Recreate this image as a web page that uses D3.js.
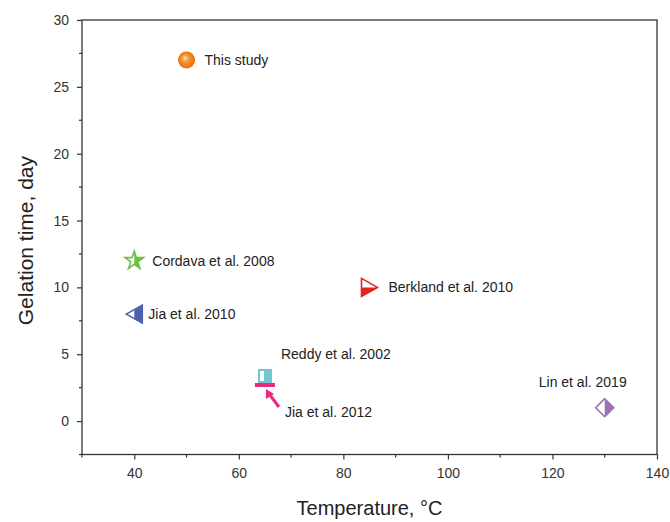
<!DOCTYPE html>
<html>
<head>
<meta charset="utf-8">
<script src="https://cdn.jsdelivr.net/npm/d3@7"></script>
<style>
  body { margin: 0; background: #fff; }
  svg { display: block; font-family: "Liberation Sans", Arial, sans-serif; }
</style>
</head>
<body>
<svg id="chart" width="670" height="522"></svg>
<script>
// Literature comparison: gelation time vs. temperature
const studies = ["This study", "Cordava et al. 2008", "Jia et al. 2010", "Berkland et al. 2010",
                 "Reddy et al. 2002", "Jia et al. 2012", "Lin et al. 2019"];
const temperatures = [50, 40, 40, 85, 65, 65, 130];
const gelationDays = [27, 12, 8, 10, 3.3, 2.7, 1];
const xTicks = [40, 60, 80, 100, 120, 140];
const yTicks = [0, 5, 10, 15, 20, 25, 30];

const symbolKind = ["sphere", "star", "triLeft", "triRight", "square", "bar", "diamond"];
const symbolColor = ["#f07c12", "#6dbf45", "#4a62b0", "#e3231e", "#6ec6d3", "#e8297c", "#9d6fb6"];

const svg = d3.select("#chart");
const x = d3.scaleLinear().domain([30, 140]).range([82, 657]);
const y = d3.scaleLinear().domain([-2.5, 30]).range([454.5, 20]);
const axisColor = "#333";

const defs = svg.append("defs");
const grad = defs.append("radialGradient").attr("id", "sphereGrad")
  .attr("cx", "50%").attr("cy", "50%").attr("r", "55%").attr("fx", "40%").attr("fy", "35%");
grad.append("stop").attr("offset", "0%").attr("stop-color", "#ffe2c2");
grad.append("stop").attr("offset", "35%").attr("stop-color", "#f59a3c");
grad.append("stop").attr("offset", "80%").attr("stop-color", "#ee7410");
grad.append("stop").attr("offset", "100%").attr("stop-color", "#d86306");

// frame
svg.append("rect").attr("x", x(30)).attr("y", y(30))
  .attr("width", x(140) - x(30)).attr("height", y(-2.5) - y(30))
  .attr("fill", "none").attr("stroke", axisColor).attr("stroke-width", 1.3);

// axes
const xAxis = d3.axisBottom(x).tickValues(xTicks).tickSize(5).tickPadding(9).tickFormat(d3.format("d"));
const gx = svg.append("g").attr("transform", `translate(0,${y(-2.5)})`).call(xAxis);
const yAxis = d3.axisLeft(y).tickValues(yTicks).tickSize(5).tickPadding(8).tickFormat(d3.format("d"));
const gy = svg.append("g").attr("transform", `translate(${x(30)},0)`).call(yAxis);
[gx, gy].forEach(g => {
  g.select(".domain").remove();
  g.selectAll("line").attr("stroke", axisColor).attr("stroke-width", 1.2);
  g.selectAll("text").attr("fill", axisColor).style("font-size", "14px");
});

// minor ticks
const xMinor = d3.range(30, 141, 10).filter(v => !xTicks.includes(v));
svg.append("g").selectAll("line").data(xMinor).join("line")
  .attr("x1", d => x(d)).attr("x2", d => x(d))
  .attr("y1", y(-2.5)).attr("y2", y(-2.5) + 3)
  .attr("stroke", axisColor).attr("stroke-width", 1.2);
const yMinor = d3.range(-2.5, 30, 5);
svg.append("g").selectAll("line").data(yMinor).join("line")
  .attr("y1", d => y(d)).attr("y2", d => y(d))
  .attr("x1", x(30)).attr("x2", x(30) - 3)
  .attr("stroke", axisColor).attr("stroke-width", 1.2);

// axis titles
svg.append("text").attr("x", (x(30) + x(140)) / 2).attr("y", 515)
  .attr("text-anchor", "middle").attr("fill", "#222").style("font-size", "20px")
  .text("Temperature, °C");
svg.append("text").attr("transform", `translate(33,${y(13.5)}) rotate(-90)`)
  .attr("text-anchor", "middle").attr("fill", "#222").style("font-size", "21px")
  .text("Gelation time, day");

// half-filled symbol helper: white in the clipped half, colour elsewhere
let clipId = 0;
function halfFilled(g, pathD, color, half) {
  const id = "clip" + (clipId++);
  const c = defs.append("clipPath").attr("id", id);
  const r = 20;
  if (half === "left") c.append("rect").attr("x", -r).attr("y", -r).attr("width", r).attr("height", 2 * r);
  if (half === "top") c.append("rect").attr("x", -r).attr("y", -r).attr("width", 2 * r).attr("height", r);
  g.append("path").attr("d", pathD).attr("fill", color);
  g.append("path").attr("d", pathD).attr("fill", "#fff").attr("clip-path", `url(#${id})`);
  g.append("path").attr("d", pathD).attr("fill", "none").attr("stroke", color)
    .attr("stroke-width", 1.6).attr("stroke-linejoin", "miter");
}

const points = studies.map((s, i) => ({ name: s, t: temperatures[i], d: gelationDays[i], kind: symbolKind[i], color: symbolColor[i] }));

const marks = svg.append("g");
points.forEach(p => {
  const g = marks.append("g").attr("transform", `translate(${x(p.t)},${y(p.d)})`);
  if (p.kind === "sphere") {
    g.append("circle").attr("r", 8.5).attr("fill", "url(#sphereGrad)");
  } else if (p.kind === "star") {
    const star = d3.symbol().type(d3.symbolStar).size(105)();
    halfFilled(g, star, p.color, "left");
  } else if (p.kind === "triLeft") {
    halfFilled(g, "M-8,0L8,-9L8,9Z", p.color, "left");
  } else if (p.kind === "triRight") {
    halfFilled(g, "M-8,-9L8,0L-8,9Z", p.color, "top");
  } else if (p.kind === "square") {
    g.append("rect").attr("x", -7).attr("y", -8).attr("width", 14).attr("height", 14).attr("fill", p.color);
    g.append("rect").attr("x", -5).attr("y", -6).attr("width", 4).attr("height", 10).attr("fill", "#fff");
  } else if (p.kind === "bar") {
    g.append("rect").attr("x", -10).attr("y", -2).attr("width", 20).attr("height", 4).attr("fill", p.color);
  } else if (p.kind === "diamond") {
    halfFilled(g, "M0,-9L9,0L0,9L-9,0Z", p.color, "left");
  }
});

// labels (offset from each point)
const labelOffsets = {
  "This study": [18, 5, "start"],
  "Cordava et al. 2008": [18, 5, "start"],
  "Jia et al. 2010": [14, 5, "start"],
  "Berkland et al. 2010": [19, 5, "start"],
  "Reddy et al. 2002": [16, -18, "start"],
  "Jia et al. 2012": [20, 32, "start"],
  "Lin et al. 2019": [-22, -21, "middle"]
};
svg.append("g").selectAll("text").data(points).join("text")
  .attr("x", p => x(p.t) + labelOffsets[p.name][0])
  .attr("y", p => y(p.d) + labelOffsets[p.name][1])
  .attr("text-anchor", p => labelOffsets[p.name][2])
  .attr("fill", "#222").style("font-size", "14px")
  .text(p => p.name);

// arrow pointing from the Jia 2012 label to its marker
const j = points[5];
const ax = x(j.t), ay = y(j.d);
svg.append("line").attr("x1", ax + 14).attr("y1", ay + 22).attr("x2", ax + 5).attr("y2", ay + 10)
  .attr("stroke", j.color).attr("stroke-width", 3);
svg.append("path")
  .attr("d", `M${ax + 1},${ay + 4}L${ax + 1},${ay + 14}L${ax + 9},${ay + 9}Z`)
  .attr("fill", j.color);
</script>
</body>
</html>
